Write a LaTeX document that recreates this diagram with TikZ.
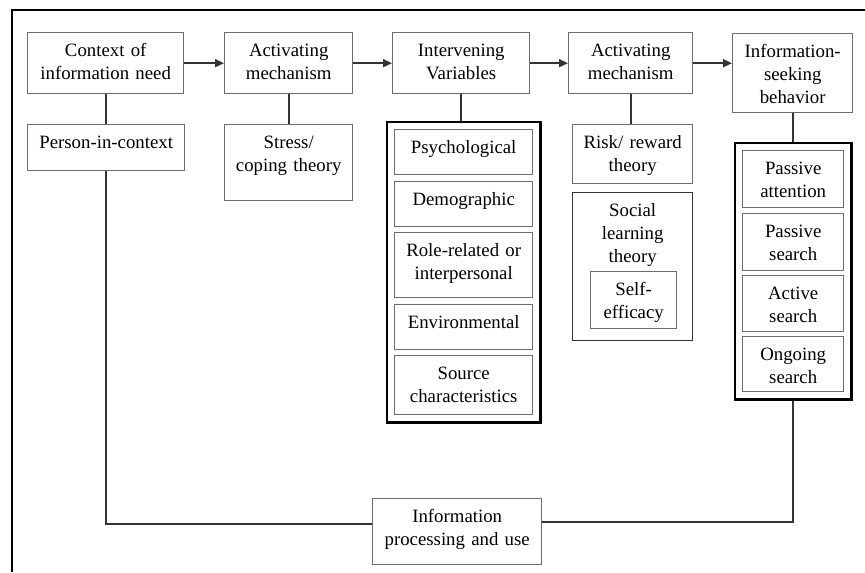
\documentclass[tikz,border=0pt]{standalone}
\usepackage{fontspec}
\setmainfont{Liberation Serif}
\usetikzlibrary{arrows.meta,positioning,fit}

\begin{document}
\begin{tikzpicture}[
  x=0.5pt, y=-0.5pt,
  box/.style={draw=gray!85!black, line width=0.7pt, anchor=north west, align=center, inner xsep=0pt, inner ysep=0pt, text height=12pt, font=\fontsize{9.4}{11.5}\selectfont},
  frame/.style={draw=black, line width=1.3pt, inner sep=3.5pt},
  link/.style={draw=black!80, line width=0.8pt},
  arr/.style={link, -{Triangle[length=4.5pt, width=4pt]}},
]
\useasboundingbox (0,0) rectangle (865,572);

% Page frame
\draw[line width=0.8pt] (865,10) -- (12,10) -- (12,572);

% Top row
\node[box, text width=78pt, text depth=18.5pt] (ctx) at (27,32) {Context of\\information need};
\node[box, text width=64pt, text depth=18.5pt] (act1) at (224,32) {Activating\\mechanism};
\node[box, text width=68.5pt, text depth=18.5pt] (iv) at (392,32) {Intervening\\Variables};
\node[box, text width=62pt, text depth=18.5pt] (act2) at (568,32) {Activating\\mechanism};
\node[box, text width=60pt, text depth=27.5pt] (isb) at (732,33) {Information-\\seeking\\behavior};

% Second row
\node[box, text width=78.5pt, text depth=11pt] (pic) at (27,124) {Person-in-context};
\node[box, text width=64pt, text depth=26pt] (stress) at (224,124) {Stress/\\coping theory};

% Intervening variables
\node[box, text width=69pt, text depth=10.5pt] (psy) at (394,129) {Psychological};
\node[box, text width=69pt, text depth=10.5pt] (demo) at (394,181) {Demographic};
\node[box, text width=69pt, text depth=20.5pt] (role) at (394,232) {Role-related or\\interpersonal};
\node[box, text width=69pt, text depth=10.5pt] (env) at (394,304) {Environmental};
\node[box, text width=69pt, text depth=17.5pt] (src) at (394,355) {Source\\characteristics};
\node[frame, fit=(psy)(src)] (ivframe) {};

% Activating mechanism theories
\node[box, text width=60pt, text depth=17.5pt] (risk) at (572,124) {Risk/ reward\\theory};
\node[box, draw=black!80, text width=60pt, text depth=62pt] (social) at (572,192) {Social\\learning\\theory};
\node[box, text width=43pt, text depth=16.5pt] (self) at (590,271) {Self-\\efficacy};

% Information-seeking modes
\node[box, text width=50.5pt, text depth=16.5pt] (pa) at (742,150) {Passive\\attention};
\node[box, text width=50.5pt, text depth=16.5pt] (ps) at (742,213) {Passive\\search};
\node[box, text width=50.5pt, text depth=16pt] (as) at (742,275) {Active\\search};
\node[box, text width=50.5pt, text depth=15.5pt] (os) at (742,336) {Ongoing\\search};
\node[frame, fit=(pa)(os)] (isbframe) {};

% Outcome
\node[box, text width=84.5pt, text depth=21pt] (info) at (372,498) {Information\\processing and use};

% Arrows
\draw[arr] (ctx) -- (act1);
\draw[arr] (act1) -- (iv);
\draw[arr] (iv) -- (act2);
\draw[arr] (act2.east) -- (act2.east -| isb.west);

% Links
\draw[link] (ctx.south) -- (ctx.south |- pic.north);
\draw[link] (act1.south) -- (act1.south |- stress.north);
\draw[link] (iv.south) -- (iv.south |- ivframe.north);
\draw[link] (act2.south) -- (act2.south |- risk.north);
\draw[link] (isb.south) -- (isb.south |- isbframe.north);
\draw[link] (pic.south) |- ([yshift=4pt]info.west);
\draw[link] (isbframe.south) |- ([yshift=5pt]info.east);

\end{tikzpicture}
\end{document}
